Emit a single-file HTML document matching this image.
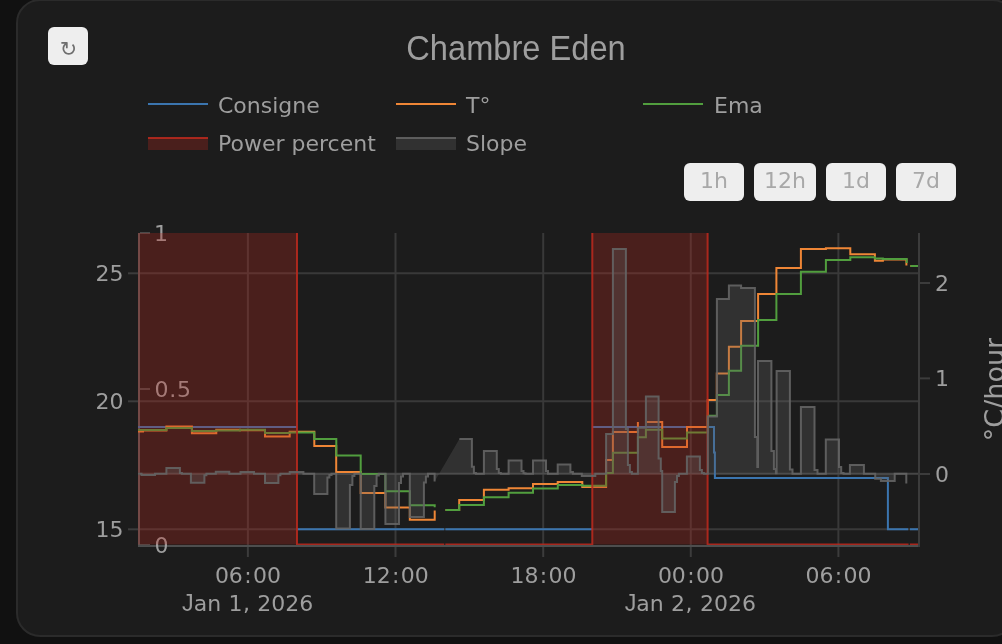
<!DOCTYPE html>
<html lang="fr">
<head>
<meta charset="utf-8">
<title>Chambre Eden</title>
<style>
  html, body { margin: 0; padding: 0; }
  body {
    width: 1002px; height: 644px; overflow: hidden; position: relative;
    background: #111111;
    font-family: "DejaVu Sans", "Liberation Sans", sans-serif;
  }
  .card {
    position: absolute; left: 16px; top: -1px; width: 1000px; height: 638px;
    box-sizing: border-box;
    background: #1c1c1c; border: 2px solid #2b2b2b; border-radius: 24px;
  }
  .reload {
    position: absolute; left: 48px; top: 27px; width: 40px; height: 38px;
    background: #eeeeee; border-radius: 6px; border: 0; padding: 0;
    color: #6f6f6f; font-family: "DejaVu Sans", sans-serif; font-size: 20.8px; line-height: 38px; text-align: center; padding-top: 3px; padding-left: 1px; box-sizing: border-box;
  }
  .title {
    position: absolute; left: 316px; top: 28px; width: 400px; height: 40px;
    text-align: center; color: #9e9e9e; white-space: nowrap;
    font-family: "Liberation Sans", sans-serif; font-size: 35.3px; line-height: 40px;
    transform: scaleX(0.924); transform-origin: 50% 50%;
  }
  svg.chart { position: absolute; left: 0; top: 0; }
  svg text { font-family: "DejaVu Sans", "Liberation Sans", sans-serif; fill: #9e9e9e; }
</style>
</head>
<body>
<div class="card"></div>
<button class="reload">↻</button>
<div class="title">Chambre Eden</div>
<svg class="chart" width="1002" height="644" viewBox="0 0 1002 644">
  <defs>
    <clipPath id="plotclip"><rect x="138" y="233" width="780" height="312"/></clipPath>
  </defs>

  <!-- legend -->
  <g id="legend" font-size="22">
    <line x1="148" x2="208" y1="104" y2="104" stroke="#3b75af" stroke-width="2"/>
    <text x="218" y="113.3">Consigne</text>
    <line x1="396" x2="456" y1="104" y2="104" stroke="#ef8636" stroke-width="2"/>
    <text x="466" y="113.3">T°</text>
    <line x1="643" x2="703" y1="104" y2="104" stroke="#519e3e" stroke-width="2"/>
    <text x="714" y="113.3">Ema</text>
    <rect x="148" y="138" width="60" height="12" fill="rgba(183,41,30,0.3)"/>
    <line x1="148" x2="208" y1="138" y2="138" stroke="rgba(183,41,30,0.9)" stroke-width="2"/>
    <text x="218" y="151.3">Power percent</text>
    <rect x="396" y="138" width="60" height="12" fill="rgba(100,100,100,0.3)"/>
    <line x1="396" x2="456" y1="138" y2="138" stroke="rgba(100,100,100,0.9)" stroke-width="2"/>
    <text x="466" y="151.3">Slope</text>
  </g>

  <!-- range buttons -->
  <g id="rangesel" font-size="22" text-anchor="middle">
    <rect x="684" y="163" width="60" height="38" rx="6" fill="#eeeeee"/>
    <text x="714" y="188.4" style="fill:#a8a8a8">1h</text>
    <rect x="754" y="163" width="62" height="38" rx="6" fill="#eeeeee"/>
    <text x="785" y="188.4" style="fill:#a8a8a8">12h</text>
    <rect x="826" y="163" width="60" height="38" rx="6" fill="#eeeeee"/>
    <text x="856" y="188.4" style="fill:#a8a8a8">1d</text>
    <rect x="896" y="163" width="60" height="38" rx="6" fill="#eeeeee"/>
    <text x="926" y="188.4" style="fill:#a8a8a8">7d</text>
  </g>

  <!-- grid -->
  <g id="grid" stroke="#393939" stroke-width="2">
    <line x1="247.9" x2="247.9" y1="233" y2="545"/>
    <line x1="395.5" x2="395.5" y1="233" y2="545"/>
    <line x1="543.2" x2="543.2" y1="233" y2="545"/>
    <line x1="690.8" x2="690.8" y1="233" y2="545"/>
    <line x1="838.4" x2="838.4" y1="233" y2="545"/>
    <line x1="140" x2="918" y1="273.3" y2="273.3"/>
    <line x1="140" x2="918" y1="401.3" y2="401.3"/>
    <line x1="140" x2="918" y1="529.3" y2="529.3"/>
  </g>

  <!-- overlay axis (drawn below traces) -->
  <g id="y2axis" stroke="#4a4a4a" stroke-width="2">
    <line x1="139" x2="139" y1="233" y2="547" stroke="#585858"/>
    <line x1="138" x2="920" y1="546" y2="546" stroke="#4d4e4e"/>
    <line x1="140" x2="150" y1="233" y2="233"/>
    <line x1="140" x2="150" y1="389" y2="389"/>
    <line x1="140" x2="150" y1="545" y2="545"/>
  </g>
  <g id="y2labels" font-size="22">
    <text x="154" y="241.2">1</text>
    <text x="154.6" y="397.2">0<tspan dx="0.7">.</tspan><tspan dx="0.7">5</tspan></text>
    <text x="154.6" y="553.2">0</text>
  </g>

  <!-- DATA -->
  <g id="data" clip-path="url(#plotclip)" fill="none" stroke-width="2" stroke-linejoin="miter">
    <line id="zeroline" x1="136" x2="922" y1="473.8" y2="473.8" stroke="#464646"/>
    <path id="consigne" d="M138,427H296.9M296.9,529.2H444.2M445.4,529.2H592.3M592.3,427H714.0V452.5H714.9V478H887.9V529.2H908.2M910,529.2H920" stroke="#3b75af"/>
    <path id="temp" d="M138,431.5H143V430.6H166.4V426.5H191.9V433.3H216.3V429.7H239.8V430.2H265V436.5H289.7V431.8H314.3V446.1H336.2V472H360.7V493H385.4V507.6H409.8V519.8H434.7V510.4M445.5,510H459.2V500.1H483.9V489.8H508.6V488.2H533V484.1H557.7V482.1H582.3V487.1H606.1V460H612.9V432H637.9V422M646.9,422H662.2V447.1H687V427H707.7V400H716.8V373.4H728.9V346.8H741.1V320.9H758.1V293.9H776.4V268.1H800.9V249H825.9V248.3H850.3V254.3H874.9V260.7H882.9V259.5H906.4V265.4M910.4,266H920" stroke="#ef8636"/>
    <path id="ema" d="M138,430H166.4V428H191.9V431H216.3V430.4H240V429.7H265V433H289.7V432.5H314.3V439H336.3V455.4H360.7V474.1H385.4V491.2H409.8V505.2H434.7V507.2M445.5,509.9H459.2V505H483.9V497.3H508.6V492.8H533V488.4H557.8V485.1H582.3V485.8H606.1V472.9H612.9V452.8H637.9V437.3H645.9V429.8H662.2V438.5H687V432.5H707.7V415.7H716.9V395H728.9V370.7H741.1V345.8H758.1V319.9H776.4V293.9H800.9V271.7H825.9V259.9H850.3V257.2H874.9V258.4H882.9V259.1H906.7V263M910.4,266H920" stroke="#519e3e"/>
    <path id="powerfill" d="M136,230 H297 V544.5 H136 Z M592.3,230 H707.6 V544.5 H592 Z" fill="rgba(183,41,30,0.3)" stroke="none"/>
    <path id="powerline" d="M136,230 H297 V544.5 H444.3 M445.3,544.5 H592.3 V230 H707.6 V544.5 H908.6 M909.8,544.5 H921" stroke="rgba(183,41,30,0.9)"/>
    <path id="slopefill" d="M138,473.8 L138,473.8 141.5,473.8 141.5,475 155,475 155,473.8 166.4,473.8 166.4,468 179.9,468 179.9,473 181.9,473 181.9,473.8 190.9,473.8 190.9,482.7 204.4,482.7 204.4,475.2 206.4,475.2 206.4,473.8 215.8,473.8 215.8,471.7 229.3,471.7 229.3,473.8 240.5,473.8 240.5,472 254,472 254,473.8 265,473.8 265,483.1 278.4,483.1 278.4,475.3 280.4,475.3 280.4,473.8 289.7,473.8 289.7,472 303.4,472 303.4,473.8 314.2,473.8 314.2,494.1 327.4,494.1 327.4,477.5 329.4,477.5 329.4,475 331.5,475 331.5,473.8 336.2,473.8 336.2,528.4 349.9,528.4 349.9,485 352.4,485 352.4,476 354.4,476 354.4,473.8 360.7,473.8 360.7,528.9 374.3,528.9 374.3,486 376.6,486 376.6,475.5 378.8,475.5 378.8,473.8 385.4,473.8 385.4,523.9 399,523.9 399,483 401,483 401,476.5 403,476.5 403,473.8 409.8,473.8 409.8,517.1 423.9,517.1 423.9,482.5 425.9,482.5 425.9,476.5 428,476.5 428,473.8 434.6,473.8 434.6,481.4 L459.4,439 471.9,439 471.9,466.7 473.9,466.7 473.9,472.9 475.9,472.9 475.9,473.8 483.9,473.8 483.9,450.9 496.8,450.9 496.8,468.9 498.8,468.9 498.8,472.9 500.8,472.9 500.8,473.8 508.6,473.8 508.6,460.6 521.5,460.6 521.5,471 523.5,471 523.5,473.2 525.5,473.2 525.5,473.8 533,473.8 533,460.5 546,460.5 546,471 548,471 548,473.8 557.7,473.8 557.7,464.4 570.4,464.4 570.4,472 572.9,472 572.9,473.8 581.8,473.8 581.8,475.9 595.3,475.9 595.3,473.8 606.1,473.8 606.1,433.9 612.9,433.9 612.9,249 625.9,249 625.9,428.9 627.9,428.9 627.9,465 629.9,465 629.9,471.9 631.9,471.9 631.9,473.8 637.9,473.8 637.9,427.8 645.9,427.8 645.9,396.5 658.6,396.5 658.6,458.5 660.8,458.5 660.8,470.9 662.2,470.9 662.2,512 674.9,512 674.9,481.9 677,481.9 677,475.9 678.9,475.9 678.9,473.8 686.9,473.8 686.9,456.5 699.9,456.5 699.9,469.9 701.9,469.9 701.9,472.9 703.9,472.9 703.9,473.8 707.8,473.8 707.8,416.4 716.9,416.4 716.9,298.9 728.9,298.9 728.9,285.5 741.1,285.5 741.1,288 754.9,288 754.9,437 757.3,437 757.3,466.9 758,466.9 758,361 771.4,361 771.4,451 773.9,451 773.9,468.9 775.9,468.9 775.9,473.2 776.6,473.2 776.6,371 789.9,371 789.9,469.4 792.5,469.4 792.5,473.8 800.9,473.8 800.9,407.1 814.5,407.1 814.5,469.9 817.5,469.9 817.5,473.8 825.8,473.8 825.8,439.5 839,439.5 839,466.9 841.2,466.9 841.2,472.9 843.5,472.9 843.5,473.8 849.9,473.8 849.9,465.1 863.9,465.1 863.9,473.8 875.2,473.8 875.2,478.7 880.9,478.7 880.9,480.9 894.7,480.9 894.7,473.8 906.3,473.8 906.3,483.4 L906.3,473.8 Z" fill="rgba(100,100,100,0.3)" stroke="none"/>
    <path id="slope1" d="M138,473.8 L141.5,473.8 L141.5,475 L155,475 L155,473.8 L166.4,473.8 L166.4,468 L179.9,468 L179.9,473 L181.9,473 L181.9,473.8 L190.9,473.8 L190.9,482.7 L204.4,482.7 L204.4,475.2 L206.4,475.2 L206.4,473.8 L215.8,473.8 L215.8,471.7 L229.3,471.7 L229.3,473.8 L240.5,473.8 L240.5,472 L254,472 L254,473.8 L265,473.8 L265,483.1 L278.4,483.1 L278.4,475.3 L280.4,475.3 L280.4,473.8 L289.7,473.8 L289.7,472 L303.4,472 L303.4,473.8 L314.2,473.8 L314.2,494.1 L327.4,494.1 L327.4,477.5 L329.4,477.5 L329.4,475 L331.5,475 L331.5,473.8 L336.2,473.8 L336.2,528.4 L349.9,528.4 L349.9,485 L352.4,485 L352.4,476 L354.4,476 L354.4,473.8 L360.7,473.8 L360.7,528.9 L374.3,528.9 L374.3,486 L376.6,486 L376.6,475.5 L378.8,475.5 L378.8,473.8 L385.4,473.8 L385.4,523.9 L399,523.9 L399,483 L401,483 L401,476.5 L403,476.5 L403,473.8 L409.8,473.8 L409.8,517.1 L423.9,517.1 L423.9,482.5 L425.9,482.5 L425.9,476.5 L428,476.5 L428,473.8 L434.6,473.8 L434.6,481.4" stroke="rgba(100,100,100,0.9)"/>
    <path id="slope2" d="M459.4,439 L471.9,439 L471.9,466.7 L473.9,466.7 L473.9,472.9 L475.9,472.9 L475.9,473.8 L483.9,473.8 L483.9,450.9 L496.8,450.9 L496.8,468.9 L498.8,468.9 L498.8,472.9 L500.8,472.9 L500.8,473.8 L508.6,473.8 L508.6,460.6 L521.5,460.6 L521.5,471 L523.5,471 L523.5,473.2 L525.5,473.2 L525.5,473.8 L533,473.8 L533,460.5 L546,460.5 L546,471 L548,471 L548,473.8 L557.7,473.8 L557.7,464.4 L570.4,464.4 L570.4,472 L572.9,472 L572.9,473.8 L581.8,473.8 L581.8,475.9 L595.3,475.9 L595.3,473.8 L606.1,473.8 L606.1,433.9 L612.9,433.9 L612.9,249 L625.9,249 L625.9,428.9 L627.9,428.9 L627.9,465 L629.9,465 L629.9,471.9 L631.9,471.9 L631.9,473.8 L637.9,473.8 L637.9,427.8 L645.9,427.8 L645.9,396.5 L658.6,396.5 L658.6,458.5 L660.8,458.5 L660.8,470.9 L662.2,470.9 L662.2,512 L674.9,512 L674.9,481.9 L677,481.9 L677,475.9 L678.9,475.9 L678.9,473.8 L686.9,473.8 L686.9,456.5 L699.9,456.5 L699.9,469.9 L701.9,469.9 L701.9,472.9 L703.9,472.9 L703.9,473.8 L707.8,473.8 L707.8,416.4 L716.9,416.4 L716.9,298.9 L728.9,298.9 L728.9,285.5 L741.1,285.5 L741.1,288 L754.9,288 L754.9,437 L757.3,437 L757.3,466.9 L758,466.9 L758,361 L771.4,361 L771.4,451 L773.9,451 L773.9,468.9 L775.9,468.9 L775.9,473.2 L776.6,473.2 L776.6,371 L789.9,371 L789.9,469.4 L792.5,469.4 L792.5,473.8 L800.9,473.8 L800.9,407.1 L814.5,407.1 L814.5,469.9 L817.5,469.9 L817.5,473.8 L825.8,473.8 L825.8,439.5 L839,439.5 L839,466.9 L841.2,466.9 L841.2,472.9 L843.5,472.9 L843.5,473.8 L849.9,473.8 L849.9,465.1 L863.9,465.1 L863.9,473.8 L875.2,473.8 L875.2,478.7 L880.9,478.7 L880.9,480.9 L894.7,480.9 L894.7,473.8 L906.3,473.8 L906.3,483.4" stroke="rgba(100,100,100,0.9)"/>
  </g>

  <!-- axes -->
  <g id="axes" stroke="#3c3c3c" stroke-width="2">
    <line x1="919" x2="919" y1="233" y2="547"/>
    <!-- left ticks -->
    <line x1="128" x2="138" y1="273.3" y2="273.3"/>
    <line x1="128" x2="138" y1="401.3" y2="401.3"/>
    <line x1="128" x2="138" y1="529.3" y2="529.3"/>
    <!-- right ticks -->
    <line x1="920" x2="930" y1="283" y2="283"/>
    <line x1="920" x2="930" y1="378.4" y2="378.4"/>
    <line x1="920" x2="930" y1="474" y2="474"/>
    <!-- bottom ticks -->
    <line x1="247.9" x2="247.9" y1="547" y2="557"/>
    <line x1="395.5" x2="395.5" y1="547" y2="557"/>
    <line x1="543.2" x2="543.2" y1="547" y2="557"/>
    <line x1="690.8" x2="690.8" y1="547" y2="557"/>
    <line x1="838.4" x2="838.4" y1="547" y2="557"/>
  </g>

  <!-- tick labels -->
  <g id="ticklabels" font-size="22">
    <g text-anchor="end">
      <text x="123.6" y="281">25</text>
      <text x="123.6" y="409">20</text>
      <text x="123.6" y="537">15</text>
    </g>
    <g>
      <text x="934.9" y="291.2">2</text>
      <text x="934.9" y="386">1</text>
      <text x="934.9" y="482">0</text>
    </g>
    <g text-anchor="middle">
      <text x="247.9" y="583.2">06<tspan dx="1.3">:</tspan><tspan dx="1.3">00</tspan></text>
      <text x="395.8" y="583.2">12<tspan dx="1.3">:</tspan><tspan dx="1.3">00</tspan></text>
      <text x="543.5" y="583.2">18<tspan dx="1.3">:</tspan><tspan dx="1.3">00</tspan></text>
      <text x="690.9" y="583.2">00<tspan dx="1.3">:</tspan><tspan dx="1.3">00</tspan></text>
      <text x="838.5" y="583.2">06<tspan dx="1.3">:</tspan><tspan dx="1.3">00</tspan></text>
      <text x="247.6" y="611.4"><tspan font-family="Liberation Sans" font-size="23.3">J</tspan>an<tspan dx="0.3"> </tspan>1<tspan dx="0.5">,</tspan><tspan dx="0.3"> </tspan>2026</text>
      <text x="690.3" y="611.4"><tspan font-family="Liberation Sans" font-size="23.3">J</tspan>an<tspan dx="0.3"> </tspan>2<tspan dx="0.5">,</tspan><tspan dx="0.3"> </tspan>2026</text>
    </g>
  </g>
  <text font-size="27" text-anchor="middle" transform="translate(1004,389.5) rotate(-90)">°C/hour</text>
</svg>
</body>
</html>
